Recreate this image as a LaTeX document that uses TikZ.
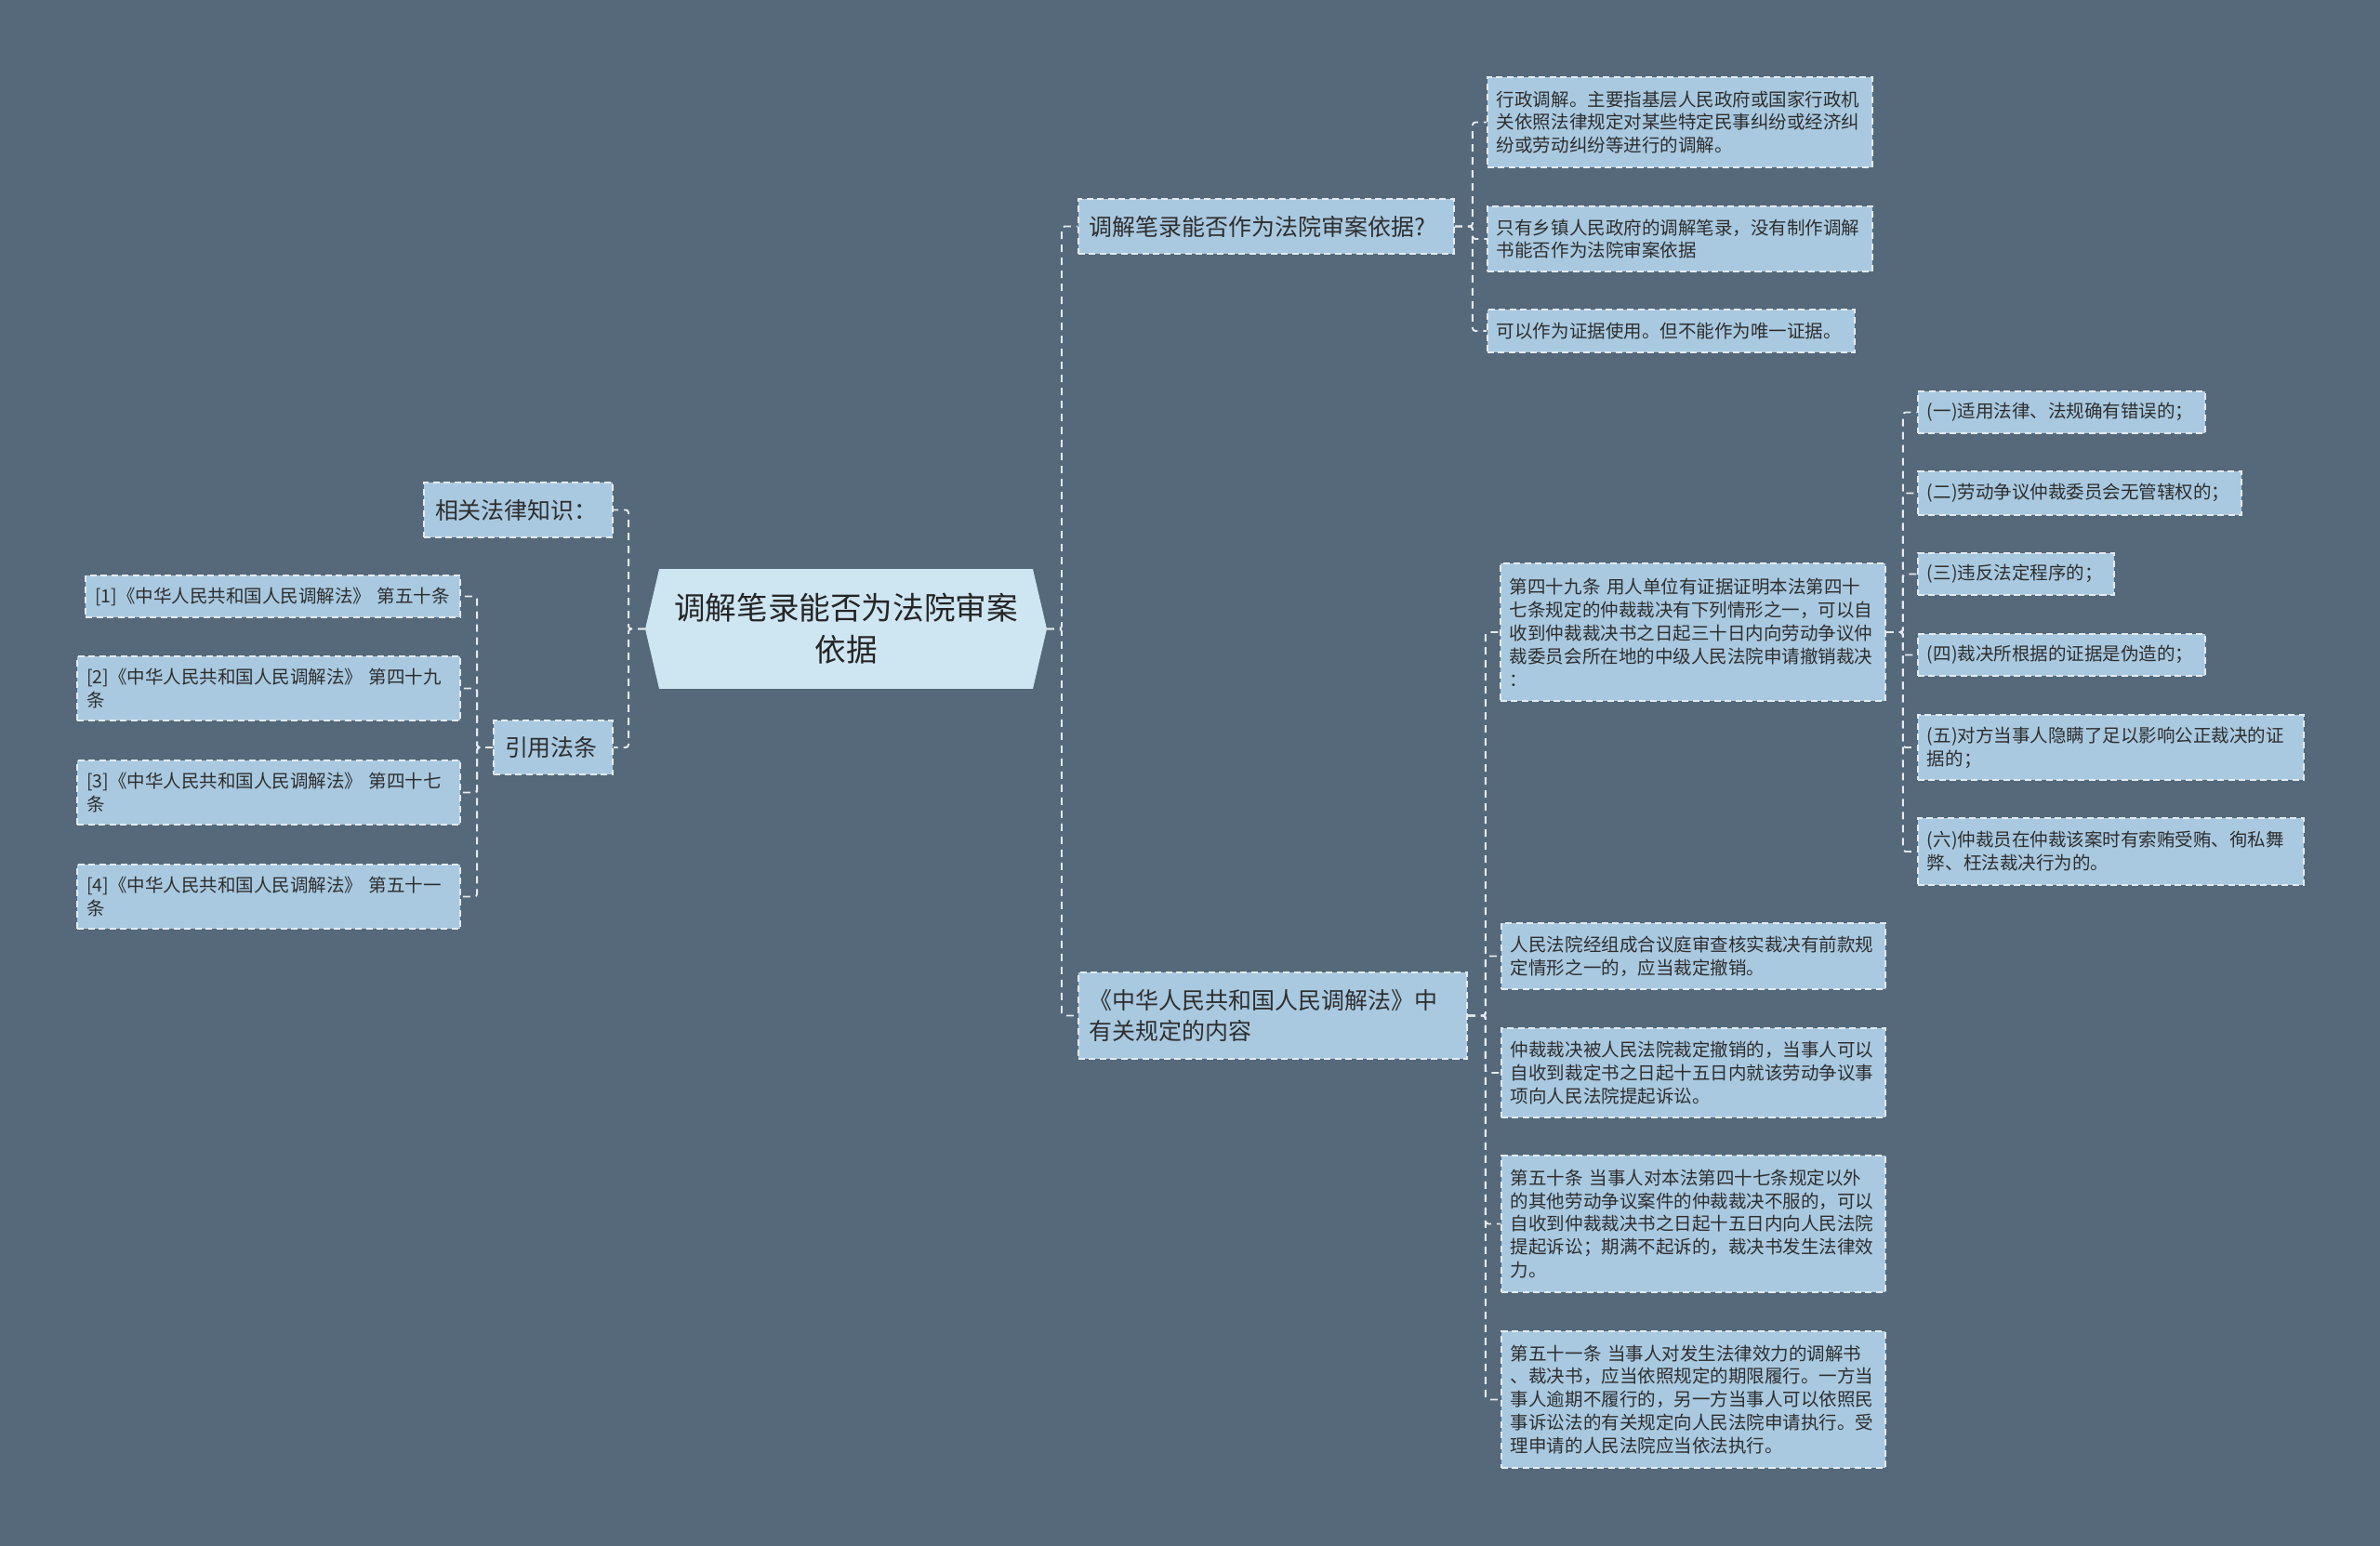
\documentclass[tikz,border=0pt]{standalone}
\usepackage{fontspec}
\setmainfont{Noto Sans CJK SC}
\usetikzlibrary{backgrounds}
\definecolor{cbg}{HTML}{55697A}
\definecolor{cbox}{HTML}{A9C9E0}
\definecolor{croot}{HTML}{CEE5F2}
\definecolor{cline}{HTML}{E4EBF0}
\definecolor{ctext}{HTML}{2E2E2E}
\tikzset{
  every picture/.style={line width=0.55pt},
  box/.style={draw=cline, fill=cbox, dash pattern=on 0.07cm off 0.045cm, text=ctext, align=left,
    inner xsep=0.1cm, inner ysep=0pt, anchor=west, text width=#1cm-0.2cm},
  leaf/.style={box=#1, font=\fontsize{5.55}{7.1}\selectfont},
  topic/.style={box=#1, font=\fontsize{7.1}{9.4}\selectfont, inner xsep=0.12cm, text width=#1cm-0.24cm},
  link/.style={draw=cline, dash pattern=on 0.08cm off 0.06cm, rounded corners=0.03cm},
}

\begin{document}
\begin{tikzpicture}
  \useasboundingbox (0,0) rectangle (25.6,-16.62);
  % centre
  \node[font=\fontsize{9.56}{12.8}\selectfont, text=ctext!80!black, align=center,
    minimum width=4.30cm, minimum height=1.27cm] (root) at (9.10,-6.765) {调解笔录能否为法院审案\\依据};
  % left side
  \node[topic=2.03, minimum height=0.59cm, anchor=east] (rel) at (6.60,-5.485) {相关法律知识：};
  \node[topic=1.28, minimum height=0.58cm, anchor=east] (cite) at (6.60,-8.04) {引用法条};
  \foreach \k/\y/\w/\h/\txt in {
    1/6.415/4.03/0.45/{[1]《中华人民共和国人民调解法》~第五十条},
    2/7.405/4.12/0.69/{[2]《中华人民共和国人民调解法》~第四十九\\条},
    3/8.525/4.12/0.69/{[3]《中华人民共和国人民调解法》~第四十七\\条},
    4/9.645/4.12/0.69/{[4]《中华人民共和国人民调解法》~第五十一\\条}}
    \node[leaf=\w, minimum height=\h cm, anchor=east] (l\k) at (4.96,-\y) {\txt};
  % right side
  \node[topic=4.04, minimum height=0.59cm] (q) at (11.59,-2.435) {调解笔录能否作为法院审案依据?};
  \node[topic=4.18, minimum height=0.93cm] (law) at (11.59,-10.925) {《中华人民共和国人民调解法》中\\有关规定的内容};
  \foreach \k/\y/\w/\h/\txt in {
    1/1.315/4.14/0.97/{行政调解。主要指基层人民政府或国家行政机\\关依照法律规定对某些特定民事纠纷或经济纠\\纷或劳动纠纷等进行的调解。},
    2/2.57/4.14/0.70/{只有乡镇人民政府的调解笔录，没有制作调解\\书能否作为法院审案依据},
    3/3.56/3.95/0.46/{可以作为证据使用。但不能作为唯一证据。}}
    \node[leaf=\w, minimum height=\h cm] (q\k) at (15.99,-\y) {\txt};
  \node[leaf=4.14, minimum height=1.48cm] (a49) at (16.13,-6.80) {第四十九条~用人单位有证据证明本法第四十\\七条规定的仲裁裁决有下列情形之一，可以自\\收到仲裁裁决书之日起三十日内向劳动争议仲\\裁委员会所在地的中级人民法院申请撤销裁决\\：};
  \foreach \k/\y/\h/\txt in {
    1/10.285/0.71/{人民法院经组成合议庭审查核实裁决有前款规\\定情形之一的，应当裁定撤销。},
    2/11.54/0.96/{仲裁裁决被人民法院裁定撤销的，当事人可以\\自收到裁定书之日起十五日内就该劳动争议事\\项向人民法院提起诉讼。},
    3/13.165/1.47/{第五十条~当事人对本法第四十七条规定以外\\的其他劳动争议案件的仲裁裁决不服的，可以\\自收到仲裁裁决书之日起十五日内向人民法院\\提起诉讼；期满不起诉的，裁决书发生法律效\\力。},
    4/15.055/1.47/{第五十一条~当事人对发生法律效力的调解书\\、裁决书，应当依照规定的期限履行。一方当\\事人逾期不履行的，另一方当事人可以依照民\\事诉讼法的有关规定向人民法院申请执行。受\\理申请的人民法院应当依法执行。}}
    \node[leaf=4.13, minimum height=\h cm] (a\k) at (16.14,-\y) {\txt};
  \foreach \k/\y/\w/\h/\txt in {
    1/4.435/3.09/0.45/{(一)适用法律、法规确有错误的；},
    2/5.305/3.48/0.47/{(二)劳动争议仲裁委员会无管辖权的；},
    3/6.175/2.11/0.45/{(三)违反法定程序的；},
    4/7.045/3.09/0.45/{(四)裁决所根据的证据是伪造的；},
    5/8.04/4.15/0.70/{(五)对方当事人隐瞒了足以影响公正裁决的证\\据的；},
    6/9.16/4.15/0.72/{(六)仲裁员在仲裁该案时有索贿受贿、徇私舞\\弊、枉法裁决行为的。}}
    \node[leaf=\w, minimum height=\h cm] (s\k) at (20.62,-\y) {\txt};
  % connectors
  \foreach \n in {rel, cite} \draw[link] (root.west) -- ++(-0.18,0) |- (\n.east);
  \foreach \k in {1,...,4} \draw[link] (cite.west) -- ++(-0.17,0) |- (l\k.east);
  \foreach \n in {q, law} \draw[link] (root.east) -- ++(0.16,0) |- (\n.west);
  \foreach \k in {1,2,3} \draw[link] (q.east) -- ++(0.19,0) |- (q\k.west);
  \foreach \n in {a49, a1, a2, a3, a4} \draw[link] (law.east) -- ++(0.19,0) |- (\n.west);
  \foreach \k in {1,...,6} \draw[link] (a49.east) -- ++(0.18,0) |- (s\k.west);
  \begin{scope}[on background layer]
    \fill[cbg] (-0.1,0.1) rectangle (25.7,-16.72);
    \fill[croot] (root.west) -- ([xshift=0.15cm]root.north west) -- ([xshift=-0.15cm]root.north east)
      -- (root.east) -- ([xshift=-0.15cm]root.south east) -- ([xshift=0.15cm]root.south west) -- cycle;
  \end{scope}
\end{tikzpicture}
\end{document}
